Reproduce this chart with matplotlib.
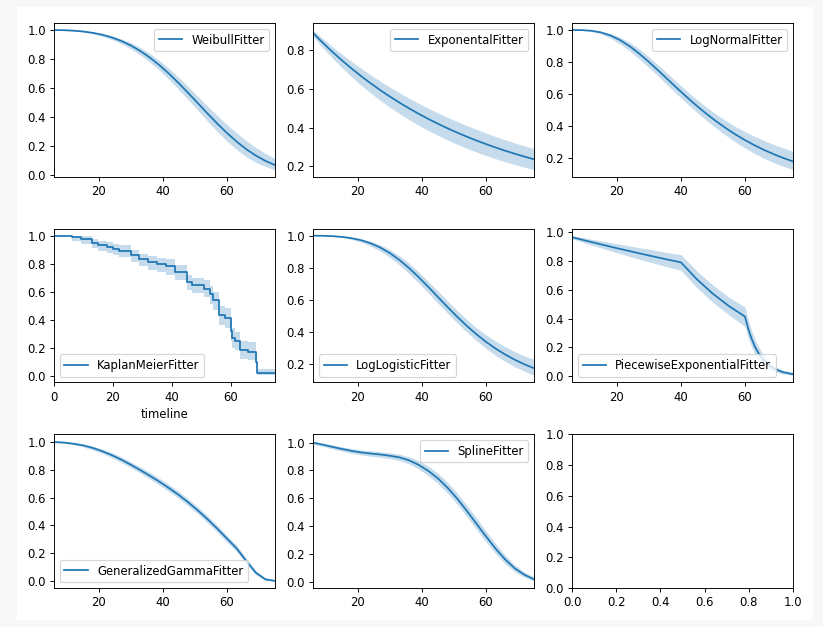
import matplotlib.pyplot as plt
import matplotlib.patches as patches
from matplotlib.ticker import MultipleLocator

# timeline shared by the smooth fitters
t_grid = [6, 9, 12, 15, 18, 21, 24, 27, 30, 33, 36, 39, 42, 45, 48, 51, 54,
          57, 60, 63, 66, 69, 72, 75]

weibull_s = [0.9996, 0.9982, 0.9952, 0.9897, 0.9807, 0.9674, 0.9489, 0.9243,
             0.8929, 0.8544, 0.8086, 0.7557, 0.6966, 0.6320, 0.5637, 0.4934,
             0.4229, 0.3544, 0.2901, 0.2312, 0.1791, 0.1347, 0.0981, 0.0690]
weibull_lo = [0.9993, 0.9973, 0.9930, 0.9854, 0.9736, 0.9568, 0.9342, 0.9052,
              0.8695, 0.8268, 0.7764, 0.7199, 0.6569, 0.5883, 0.5172, 0.4437,
              0.3698, 0.2997, 0.2340, 0.1762, 0.1276, 0.0886, 0.0586, 0.0370]
weibull_hi = [0.9997, 0.9988, 0.9967, 0.9927, 0.9860, 0.9755, 0.9604, 0.9397,
              0.9123, 0.8780, 0.8366, 0.7877, 0.7325, 0.6724, 0.6076, 0.5411,
              0.4750, 0.4095, 0.3483, 0.2907, 0.2377, 0.1905, 0.1494, 0.1145]

expo_s = [0.8906, 0.8405, 0.7932, 0.7486, 0.7064, 0.6667, 0.6292, 0.5938,
          0.5604, 0.5289, 0.4991, 0.4710, 0.4445, 0.4195, 0.3959, 0.3736,
          0.3526, 0.3327, 0.3140, 0.2963, 0.2797, 0.2639, 0.2491, 0.2351]
expo_lo = [0.8723, 0.8147, 0.7608, 0.7106, 0.6637, 0.6198, 0.5789, 0.5406,
           0.5049, 0.4716, 0.4404, 0.4113, 0.3841, 0.3588, 0.3351, 0.3129,
           0.2923, 0.2730, 0.2549, 0.2381, 0.2224, 0.2077, 0.1940, 0.1811]
expo_hi = [0.9057, 0.8620, 0.8204, 0.7807, 0.7430, 0.7071, 0.6730, 0.6405,
           0.6096, 0.5801, 0.5521, 0.5254, 0.5000, 0.4759, 0.4529, 0.4310,
           0.4102, 0.3904, 0.3715, 0.3536, 0.3365, 0.3203, 0.3048, 0.2901]

lognorm_s = [1.0000, 0.9992, 0.9954, 0.9853, 0.9661, 0.9370, 0.8985, 0.8523,
             0.8006, 0.7456, 0.6891, 0.6328, 0.5780, 0.5255, 0.4761, 0.4300,
             0.3873, 0.3481, 0.3124, 0.2800, 0.2506, 0.2243, 0.2005, 0.1792]
lognorm_lo = [0.9999, 0.9981, 0.9910, 0.9754, 0.9491, 0.9131, 0.8693, 0.8190,
              0.7654, 0.7091, 0.6511, 0.5945, 0.5385, 0.4856, 0.4345, 0.3873,
              0.3422, 0.3013, 0.2630, 0.2288, 0.1984, 0.1716, 0.1481, 0.1275]
lognorm_hi = [1.0000, 0.9997, 0.9978, 0.9915, 0.9781, 0.9554, 0.9226, 0.8813,
              0.8324, 0.7795, 0.7252, 0.6697, 0.6167, 0.5651, 0.5180, 0.4735,
              0.4339, 0.3972, 0.3654, 0.3362, 0.3094, 0.2851, 0.2628, 0.2425]

loglog_s = [0.9998, 0.9990, 0.9969, 0.9924, 0.9844, 0.9714, 0.9522, 0.9256,
            0.8908, 0.8478, 0.7973, 0.7407, 0.6799, 0.6171, 0.5545, 0.4941,
            0.4373, 0.3850, 0.3377, 0.2955, 0.2583, 0.2257, 0.1973, 0.1727]
loglog_lo = [0.9996, 0.9983, 0.9949, 0.9881, 0.9769, 0.9595, 0.9353, 0.9038,
             0.8640, 0.8172, 0.7631, 0.7046, 0.6429, 0.5786, 0.5160, 0.4555,
             0.3984, 0.3456, 0.2966, 0.2528, 0.2150, 0.1820, 0.1541, 0.1283]
loglog_hi = [0.9999, 0.9994, 0.9981, 0.9951, 0.9895, 0.9799, 0.9648, 0.9427,
             0.9128, 0.8741, 0.8277, 0.7737, 0.7146, 0.6541, 0.5924, 0.5329,
             0.4770, 0.4259, 0.3814, 0.3421, 0.3068, 0.2763, 0.2492, 0.2286]

spline_s = [1.0, 0.986, 0.970, 0.955, 0.941, 0.930, 0.922, 0.915, 0.906,
            0.894, 0.873, 0.840, 0.797, 0.743, 0.676, 0.598, 0.510, 0.418,
            0.326, 0.238, 0.160, 0.096, 0.050, 0.017]
spline_lo = [0.990, 0.974, 0.956, 0.939, 0.924, 0.912, 0.903, 0.895, 0.885,
             0.871, 0.847, 0.810, 0.763, 0.706, 0.637, 0.558, 0.469, 0.377,
             0.287, 0.202, 0.129, 0.071, 0.032, 0.005]
spline_hi = [1.010, 0.998, 0.984, 0.971, 0.958, 0.948, 0.941, 0.935, 0.927,
             0.917, 0.899, 0.870, 0.831, 0.780, 0.715, 0.638, 0.551, 0.459,
             0.365, 0.274, 0.191, 0.121, 0.068, 0.035]

gg_s = [1.0, 0.996, 0.988, 0.976, 0.958, 0.934, 0.906, 0.873, 0.836, 0.797,
        0.756, 0.713, 0.667, 0.618, 0.564, 0.506, 0.443, 0.376, 0.305, 0.235,
        0.145, 0.060, 0.012, 0.001]
gg_lo = [0.995, 0.991, 0.980, 0.965, 0.944, 0.918, 0.888, 0.853, 0.815, 0.775,
         0.732, 0.689, 0.642, 0.593, 0.539, 0.481, 0.418, 0.351, 0.281, 0.212,
         0.125, 0.045, 0.003, 0.0]
gg_hi = [1.005, 1.001, 0.995, 0.986, 0.971, 0.950, 0.924, 0.893, 0.857, 0.819,
         0.780, 0.737, 0.692, 0.643, 0.589, 0.531, 0.468, 0.401, 0.329, 0.258,
         0.165, 0.075, 0.022, 0.008]

# Kaplan-Meier step curve
km_t = [0, 6, 9, 13, 15, 18, 20, 22, 26, 29, 32, 35, 38, 41, 45, 47, 51, 53,
        54, 56, 58, 60, 60.5, 61.5, 63, 66, 68.5, 69, 75]
km_s = [1.0, 0.99, 0.976, 0.95, 0.935, 0.92, 0.905, 0.89, 0.86, 0.83, 0.81,
        0.795, 0.78, 0.74, 0.67, 0.65, 0.62, 0.58, 0.54, 0.43, 0.41, 0.32,
        0.27, 0.245, 0.18, 0.17, 0.10, 0.017, 0.017]
km_lo = [1.0, 0.96, 0.94, 0.91, 0.89, 0.875, 0.86, 0.845, 0.81, 0.78, 0.755,
         0.74, 0.72, 0.68, 0.61, 0.59, 0.56, 0.51, 0.47, 0.36, 0.34, 0.25,
         0.20, 0.18, 0.12, 0.11, 0.05, 0.002, 0.002]
km_hi = [1.0, 1.0, 0.995, 0.975, 0.965, 0.955, 0.94, 0.93, 0.90, 0.87, 0.855,
         0.84, 0.83, 0.79, 0.72, 0.70, 0.68, 0.64, 0.60, 0.50, 0.48, 0.39,
         0.34, 0.31, 0.25, 0.24, 0.17, 0.05, 0.05]

# piecewise exponential, breakpoints at 40 and 60
pw_t = [6, 10, 15, 20, 25, 30, 35, 40, 45, 50, 55, 60, 61, 62, 63, 64, 65,
        66, 68, 70, 72, 75]
pw_s = [0.9653, 0.9429, 0.9155, 0.8890, 0.8633, 0.8382, 0.8139, 0.7903,
        0.6725, 0.5722, 0.4868, 0.4142, 0.3305, 0.2638, 0.2105, 0.1680,
        0.1340, 0.1070, 0.0681, 0.0434, 0.0276, 0.0140]
pw_lo = [0.953, 0.925, 0.891, 0.857, 0.825, 0.794, 0.764, 0.735, 0.614,
         0.512, 0.425, 0.345, 0.268, 0.207, 0.160, 0.123, 0.094, 0.072,
         0.043, 0.026, 0.015, 0.006]
pw_hi = [0.976, 0.960, 0.940, 0.920, 0.900, 0.882, 0.862, 0.844, 0.730,
         0.632, 0.549, 0.480, 0.392, 0.320, 0.262, 0.214, 0.175, 0.143,
         0.094, 0.062, 0.041, 0.028]

fitters = [
    ('WeibullFitter', t_grid, weibull_s, weibull_lo, weibull_hi, 'upper right'),
    ('ExponentalFitter', t_grid, expo_s, expo_lo, expo_hi, 'upper right'),
    ('LogNormalFitter', t_grid, lognorm_s, lognorm_lo, lognorm_hi, 'upper right'),
    ('KaplanMeierFitter', km_t, km_s, km_lo, km_hi, 'lower left'),
    ('LogLogisticFitter', t_grid, loglog_s, loglog_lo, loglog_hi, 'lower left'),
    ('PiecewiseExponentialFitter', pw_t, pw_s, pw_lo, pw_hi, 'lower left'),
    ('GeneralizedGammaFitter', t_grid, gg_s, gg_lo, gg_hi, 'lower left'),
    ('SplineFitter', t_grid, spline_s, spline_lo, spline_hi, 'upper right'),
]

# picture looks like a 100 dpi figure shrunk a bit, so draw at 84 dpi
DPI = 84
fig, axes = plt.subplots(3, 3, figsize=(823 / DPI, 627 / DPI), dpi=DPI)
fig.patch.set_facecolor('#f8f8f8')
fig.patches.append(patches.Rectangle((17 / 823, 7 / 627), 796 / 823, 613 / 627,
                                     transform=fig.transFigure, facecolor='white',
                                     edgecolor='none', zorder=-1))
fig.subplots_adjust(left=0.0656, right=0.9636, top=0.9633, bottom=0.0622,
                    wspace=0.172, hspace=0.338)

for ax, (name, t, s, lo, hi, loc) in zip(axes.flat, fitters):
    if name == 'KaplanMeierFitter':
        ax.plot(t, s, drawstyle='steps-post', color='C0', label=name)
        ax.fill_between(t, lo, hi, step='post', color='C0', alpha=0.25, linewidth=0)
        ax.set_xlabel('timeline')
    else:
        ax.plot(t, s, color='C0', label=name)
        ax.fill_between(t, lo, hi, color='C0', alpha=0.25, linewidth=0)
    ax.set_xlim(t[0], t[-1])
    ax.yaxis.set_major_locator(MultipleLocator(0.2))
    ax.legend(loc=loc)

plt.savefig('out.png', dpi=DPI, facecolor=fig.get_facecolor())
